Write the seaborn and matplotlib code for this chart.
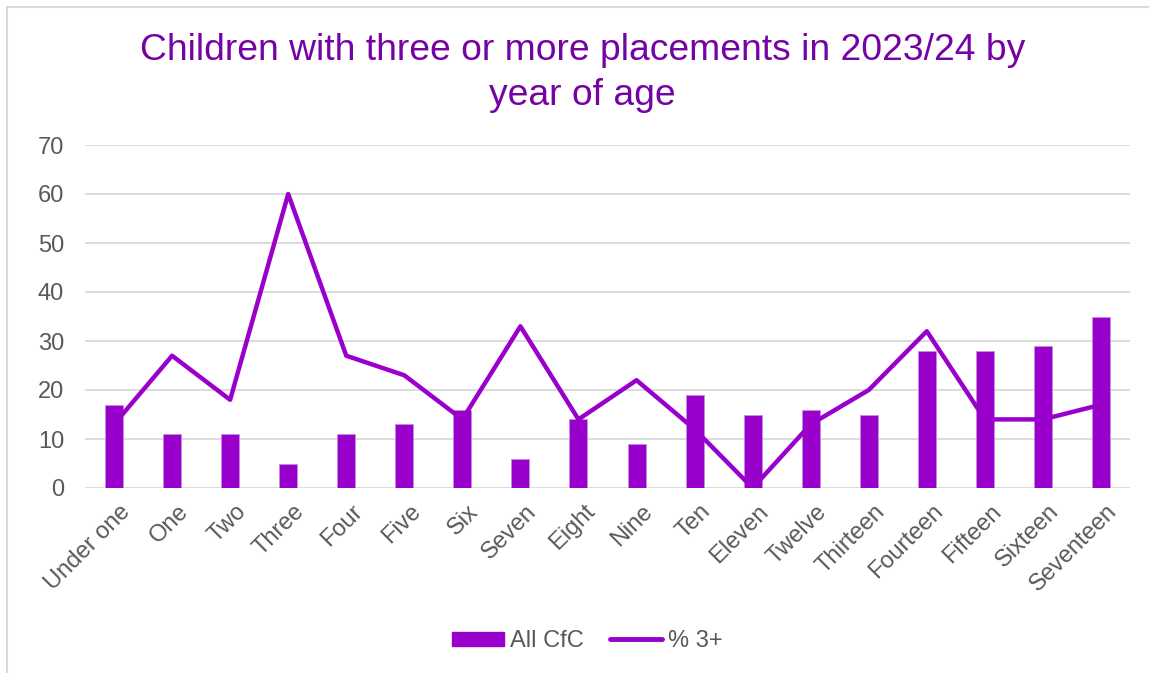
import numpy as np
import pandas as pd
import matplotlib
matplotlib.use("Agg")
import matplotlib.pyplot as plt
import matplotlib.transforms as mtransforms
from matplotlib.patches import Patch
from matplotlib.lines import Line2D
import seaborn as sns

ages = ["Under one", "One", "Two", "Three", "Four", "Five", "Six", "Seven",
        "Eight", "Nine", "Ten", "Eleven", "Twelve", "Thirteen", "Fourteen",
        "Fifteen", "Sixteen", "Seventeen"]
all_cfc = [17, 11, 11, 5, 11, 13, 16, 6, 14, 9, 19, 15, 16, 15, 28, 28, 29, 35]
pct_3plus = [13, 27, 18, 60, 27, 23, 14, 33, 14, 22, 12, 0, 13, 20, 32, 14, 14, 17]
y_ticks = [0, 10, 20, 30, 40, 50, 60, 70]

title = "Children with three or more placements in 2023/24 by\nyear of age"

PURPLE = "#9900CC"
TITLE_PURPLE = "#7503A3"
GREY_TEXT = "#595959"
GRID = "#D9D9D9"

df = pd.DataFrame({"age": ages, "all_cfc": all_cfc, "pct": pct_3plus})

sns.set_theme(style="white")
plt.rcParams["font.family"] = ["Liberation Sans", "DejaVu Sans"]

W, H = 1149, 673
fig = plt.figure(figsize=(W / 100, H / 100), dpi=100)
ax = fig.add_axes([85 / W, 1 - 488 / H, (1130 - 85) / W, (488 - 145) / H])

sns.barplot(data=df, x="age", y="all_cfc", order=ages, color=PURPLE,
            saturation=1, width=0.31, edgecolor="#C68BE0", linewidth=0.6,
            ax=ax, zorder=2)
sns.pointplot(data=df, x="age", y="pct", order=ages, color=PURPLE,
              markers="", linewidth=3.2, ax=ax, zorder=3,
              solid_joinstyle="round", solid_capstyle="round")

ax.set_ylim(0, 70)
ax.set_xlim(-0.5, len(ages) - 0.5)
ax.set_yticks(y_ticks)
ax.yaxis.grid(True, color=GRID, linewidth=1.3, zorder=0)
ax.set_axisbelow(True)
for s in ax.spines.values():
    s.set_visible(False)
ax.set_xlabel("")
ax.set_ylabel("")
ax.tick_params(axis="both", length=0, labelsize=17, labelcolor=GREY_TEXT)
ax.tick_params(axis="y", pad=15)
ax.tick_params(axis="x", pad=9)
shift = mtransforms.ScaledTranslation(5 / 100, 0, fig.dpi_scale_trans)
for lbl in ax.get_xticklabels():
    lbl.set_rotation(45)
    lbl.set_ha("right")
    lbl.set_rotation_mode("anchor")
    lbl.set_transform(lbl.get_transform() + shift)

fig.text(0.507, 1 - 33 / H, title, ha="center", va="top", fontsize=26.8,
         color=TITLE_PURPLE, linespacing=1.38)

handles = [Patch(facecolor=PURPLE, edgecolor=PURPLE),
           Line2D([0], [0], color=PURPLE, linewidth=3.5, solid_capstyle="round")]
fig.legend(handles, ["All CfC", "% 3+"], loc="center", ncol=2,
           bbox_to_anchor=(0.511, 1 - 641 / H), frameon=False, fontsize=17,
           labelcolor=GREY_TEXT, handlelength=2.2, handleheight=0.55,
           columnspacing=1.1, handletextpad=0.25)

# outer chart frame (top and left edges)
fig.add_artist(Line2D([7 / W, 1], [1 - 7 / H, 1 - 7 / H], color=GRID, linewidth=1.5))
fig.add_artist(Line2D([7 / W, 7 / W], [0, 1 - 7 / H], color=GRID, linewidth=1.5))

fig.savefig("out.png", dpi=100, facecolor="white")
